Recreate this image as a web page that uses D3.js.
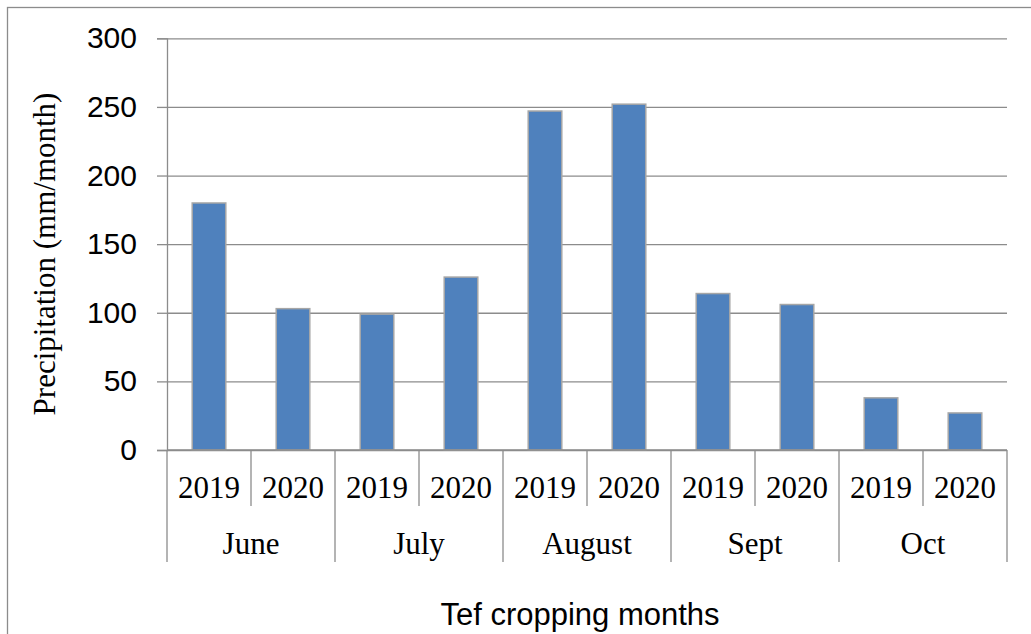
<!DOCTYPE html>
<html>
<head>
<meta charset="utf-8">
<script src="https://cdn.jsdelivr.net/npm/d3@7"></script>
<style>
  body { margin: 0; background: #fff; }
  svg { display: block; }
</style>
</head>
<body>
<div id="chart"></div>
<script>
// data
const months = ["June", "July", "August", "Sept", "Oct"];
const years = ["2019", "2020"];
const rain2019 = [180, 99, 247, 114, 38];
const rain2020 = [103, 126, 252, 106, 27];
const yTicks = [0, 50, 100, 150, 200, 250, 300];

const rows = [];
months.forEach((m, i) => {
    rows.push({month: m, year: years[0], value: rain2019[i], key: m + "-" + years[0]});
    rows.push({month: m, year: years[1], value: rain2020[i], key: m + "-" + years[1]});
});

const W = 1031, H = 634;
const margin = {top: 38.3, left: 167, right: 24, bottom: 184};
const width = W - margin.left - margin.right;
const height = H - margin.top - margin.bottom;

const svg = d3.select("#chart").append("svg")
    .attr("width", W)
    .attr("height", H);

// outer chart border (only left/top visible in the crop)
svg.append("rect")
    .attr("x", 7.5).attr("y", 7.5)
    .attr("width", 1200).attr("height", 800)
    .attr("fill", "none")
    .attr("stroke", "#8c8c8c")
    .attr("stroke-width", 1.3);

const g = svg.append("g")
    .attr("transform", "translate(" + margin.left + "," + margin.top + ")");

const x = d3.scaleBand()
    .domain(rows.map(d => d.key))
    .range([0, width])
    .paddingInner(0.6)
    .paddingOuter(0.3);
const step = x.step();

const y = d3.scaleLinear().domain([0, 300]).range([height, 0]);

// gridlines
g.append("g")
    .attr("class", "grid")
    .call(d3.axisLeft(y).tickValues(yTicks).tickSize(-width).tickFormat(""))
    .call(s => s.select(".domain").remove())
    .call(s => s.selectAll("line").attr("stroke", "#8c8c8c").attr("stroke-width", 1.3));

// y axis with outside ticks
g.append("g")
    .attr("class", "yAxisG")
    .call(d3.axisLeft(y).tickValues(yTicks).tickSize(10).tickPadding(20))
    .call(s => s.select(".domain").attr("stroke", "#8c8c8c").attr("stroke-width", 1.3))
    .call(s => s.selectAll("line").attr("stroke", "#8c8c8c").attr("stroke-width", 1.3))
    .call(s => s.selectAll("text")
        .attr("font-family", "'Liberation Sans', Arial, sans-serif")
        .attr("font-size", "30px")
        .attr("fill", "#000"));

// bars
g.selectAll(".bar")
    .data(rows)
    .join("rect")
    .attr("class", "bar")
    .attr("x", d => x(d.key))
    .attr("y", d => y(d.value))
    .attr("width", x.bandwidth())
    .attr("height", d => height - y(d.value))
    .attr("fill", "#4f81bd")
    .attr("stroke", "#a6a6a6")
    .attr("stroke-width", 1.5);

// x axis: baseline, year labels and separators
const xAxis = g.append("g")
    .attr("class", "xAxisG")
    .attr("transform", "translate(0," + height + ")");

xAxis.append("line")
    .attr("x1", 0).attr("x2", width)
    .attr("stroke", "#8c8c8c").attr("stroke-width", 1.3);

const cellLeft = d => x(d.key) - step * 0.3;

xAxis.selectAll(".yearSep")
    .data(rows.filter(d => d.year === years[1]))
    .join("line")
    .attr("class", "yearSep")
    .attr("x1", cellLeft).attr("x2", cellLeft)
    .attr("y1", 0).attr("y2", 56)
    .attr("stroke", "#8c8c8c").attr("stroke-width", 1.3);

const monthEdges = rows.filter(d => d.year === years[0]).map(cellLeft).concat([width]);
xAxis.selectAll(".monthSep")
    .data(monthEdges)
    .join("line")
    .attr("class", "monthSep")
    .attr("x1", d => d).attr("x2", d => d)
    .attr("y1", 0).attr("y2", 112)
    .attr("stroke", "#8c8c8c").attr("stroke-width", 1.3);

xAxis.selectAll(".yearLabel")
    .data(rows)
    .join("text")
    .attr("class", "yearLabel")
    .attr("x", d => x(d.key) + x.bandwidth() / 2)
    .attr("y", 48)
    .attr("text-anchor", "middle")
    .attr("font-family", "'Liberation Serif', 'Times New Roman', serif")
    .attr("font-size", "31px")
    .text(d => d.year);

xAxis.selectAll(".monthLabel")
    .data(rows.filter(d => d.year === years[0]))
    .join("text")
    .attr("class", "monthLabel")
    .attr("x", d => cellLeft(d) + step)
    .attr("y", 104)
    .attr("text-anchor", "middle")
    .attr("font-family", "'Liberation Serif', 'Times New Roman', serif")
    .attr("font-size", "31px")
    .text(d => d.month);

// axis titles
svg.append("text")
    .attr("class", "x-axis-label")
    .attr("x", 580)
    .attr("y", 625)
    .attr("text-anchor", "middle")
    .attr("font-family", "'Liberation Sans', Arial, sans-serif")
    .attr("font-size", "31px")
    .text("Tef cropping months");

svg.append("text")
    .attr("class", "y-axis-label")
    .attr("transform", "translate(55,254) rotate(-90)")
    .attr("text-anchor", "middle")
    .attr("font-family", "'Liberation Serif', 'Times New Roman', serif")
    .attr("font-size", "31px")
    .text("Precipitation (mm/month)");
</script>
</body>
</html>
